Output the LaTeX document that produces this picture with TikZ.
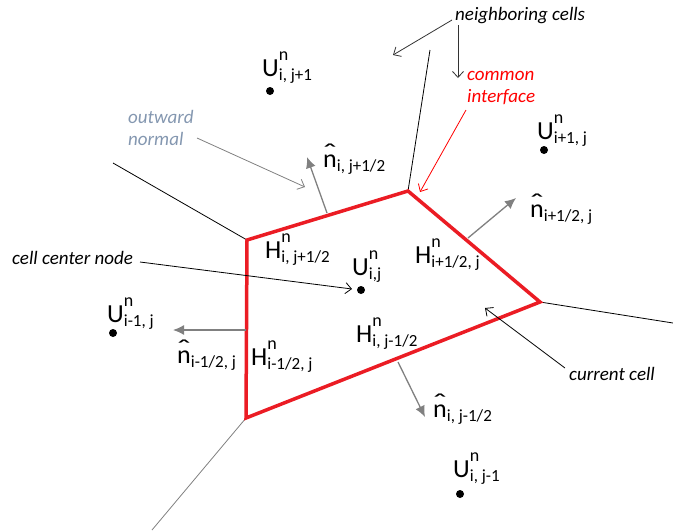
\documentclass[tikz,border=0pt]{standalone}
\usepackage{fontspec}
\setmainfont{Carlito}
\usetikzlibrary{arrows.meta}
\newcommand\supsub[3]{#1\rlap{\raisebox{16pt}{\fontsize{18}{18}\selectfont #2}}\raisebox{-4pt}{\fontsize{17}{17}\selectfont #3}}
\newcommand\nhat[1]{\rlap{\makebox[0.525em][c]{\raisebox{0.2em}{\scalebox{1.5}[1]{\char"02C6}}}}n\raisebox{-4pt}{\fontsize{17}{17}\selectfont #1}}
\definecolor{normgray}{RGB}{128,128,128}
\definecolor{notegray}{RGB}{132,151,176}
\definecolor{facered}{RGB}{235,28,36}
\begin{document}
\begin{tikzpicture}[x=1pt,y=-1pt,
  lab/.style={anchor=base west,inner sep=0pt,font=\fontsize{26}{26}\selectfont},
  note/.style={anchor=base west,inner sep=0pt,font=\fontsize{19}{19}\selectfont\itshape},
  cellline/.style={draw=black,line width=0.8pt},
  face/.style={draw=facered,line width=3.5pt,line join=miter},
  normal/.style={draw=normgray,line width=1.3pt,-{Latex[length=11pt,width=10pt]}},
  pointer/.style={line width=0.8pt,-{Straight Barb[length=6pt,width=11pt]}},
  dot/.style={circle,fill=black,inner sep=0pt,minimum size=8pt}]
\useasboundingbox (0,0) rectangle (673,531);
% vertices of current cell
\coordinate (A) at (247,240);
\coordinate (B) at (408,191);
\coordinate (C) at (540,302);
\coordinate (D) at (246,418);
% outer ends of neighbouring edges
\coordinate (A1) at (113,163);
\coordinate (B1) at (430,50);
\coordinate (C1) at (673,323);
\coordinate (D1) at (152,530);
\draw[cellline] (A) -- (A1);
\draw[cellline] (B) -- (B1);
\draw[cellline] (C) -- (C1);
\draw[draw=normgray,line width=0.8pt] (D) -- (D1);
\draw[face] (A) -- (B) -- (C) -- (D) -- cycle;
% normals
\coordinate (nt0) at (327,213); \coordinate (nt1) at (307,157);
\coordinate (nr0) at (468,238); \coordinate (nr1) at (516,198);
\coordinate (nl0) at (246,330); \coordinate (nl1) at (173,330);
\coordinate (nb0) at (398,362); \coordinate (nb1) at (425,417);
\draw[normal] (nt0) -- (nt1);
\draw[normal] (nr0) -- (nr1);
\draw[normal] (nl0) -- (nl1);
\draw[normal] (nb0) -- (nb1);
% cell centre dots
\node[dot] (cN) at (270,91) {};
\node[dot] (cE) at (544,150) {};
\node[dot] (cC) at (361,290) {};
\node[dot] (cW) at (113,333) {};
\node[dot] (cS) at (460,494) {};
% labels
\node[lab] (lN) at (262,76) {\supsub{U}{n}{i, j+1}};
\node[lab] (lE) at (537,139) {\supsub{U}{n}{i+1, j}};
\node[lab] (lC) at (352,275) {\supsub{U}{n}{i,j}};
\node[lab] (lW) at (107,322) {\supsub{U}{n}{i-1, j}};
\node[lab] (lS) at (453,477) {\supsub{U}{n}{i, j-1}};
\node[lab] (hT) at (265,258) {\supsub{H}{n}{i, j+1/2}};
\node[lab] (hR) at (415,263) {\supsub{H}{n}{i+1/2, j}};
\node[lab] (hL) at (251,365) {\supsub{H}{n}{i-1/2, j}};
\node[lab] (hB) at (356,342) {\supsub{H}{n}{i, j-1/2}};
\node[lab] (mT) at (323,167) {\nhat{i, j+1/2}};
\node[lab] (mR) at (530,217) {\nhat{i+1/2, j}};
\node[lab] (mL) at (177,363) {\nhat{i-1/2, j}};
\node[lab] (mB) at (433,417) {\nhat{i, j-1/2}};
% annotations
\node[note] (tNb) at (455,20) {neighboring cells};
\node[note,text=red] (tCi1) at (467,80) {common};
\node[note,text=red] (tCi2) at (467,102) {interface};
\node[note,text=notegray] (tOn1) at (128,123) {outward};
\node[note,text=notegray] (tOn2) at (128,145) {normal};
\node[note] (tCc) at (12,264) {cell center node};
\node[note] (tCu) at (569,380) {current cell};
\coordinate (pNb0) at (452,20); \coordinate (pNb1) at (393,55);
\coordinate (pNb2) at (458,25); \coordinate (pNb3) at (458,78);
\coordinate (pCi0) at (466,110); \coordinate (pCi1) at (420,192);
\coordinate (pOn0) at (197,138); \coordinate (pOn1) at (305,187);
\coordinate (pCc0) at (140,262); \coordinate (pCc1) at (352,289);
\coordinate (pCu0) at (565,368); \coordinate (pCu1) at (485,308);
\draw[pointer,draw=black!80] (pNb0) -- (pNb1);
\draw[pointer,draw=black!80] (pNb2) -- (pNb3);
\draw[pointer,draw=red] (pCi0) -- (pCi1);
\draw[pointer,draw=normgray] (pOn0) -- (pOn1);
\draw[pointer,draw=black] (pCc0) -- (pCc1);
\draw[pointer,draw=black] (pCu0) -- (pCu1);
\end{tikzpicture}
\end{document}
